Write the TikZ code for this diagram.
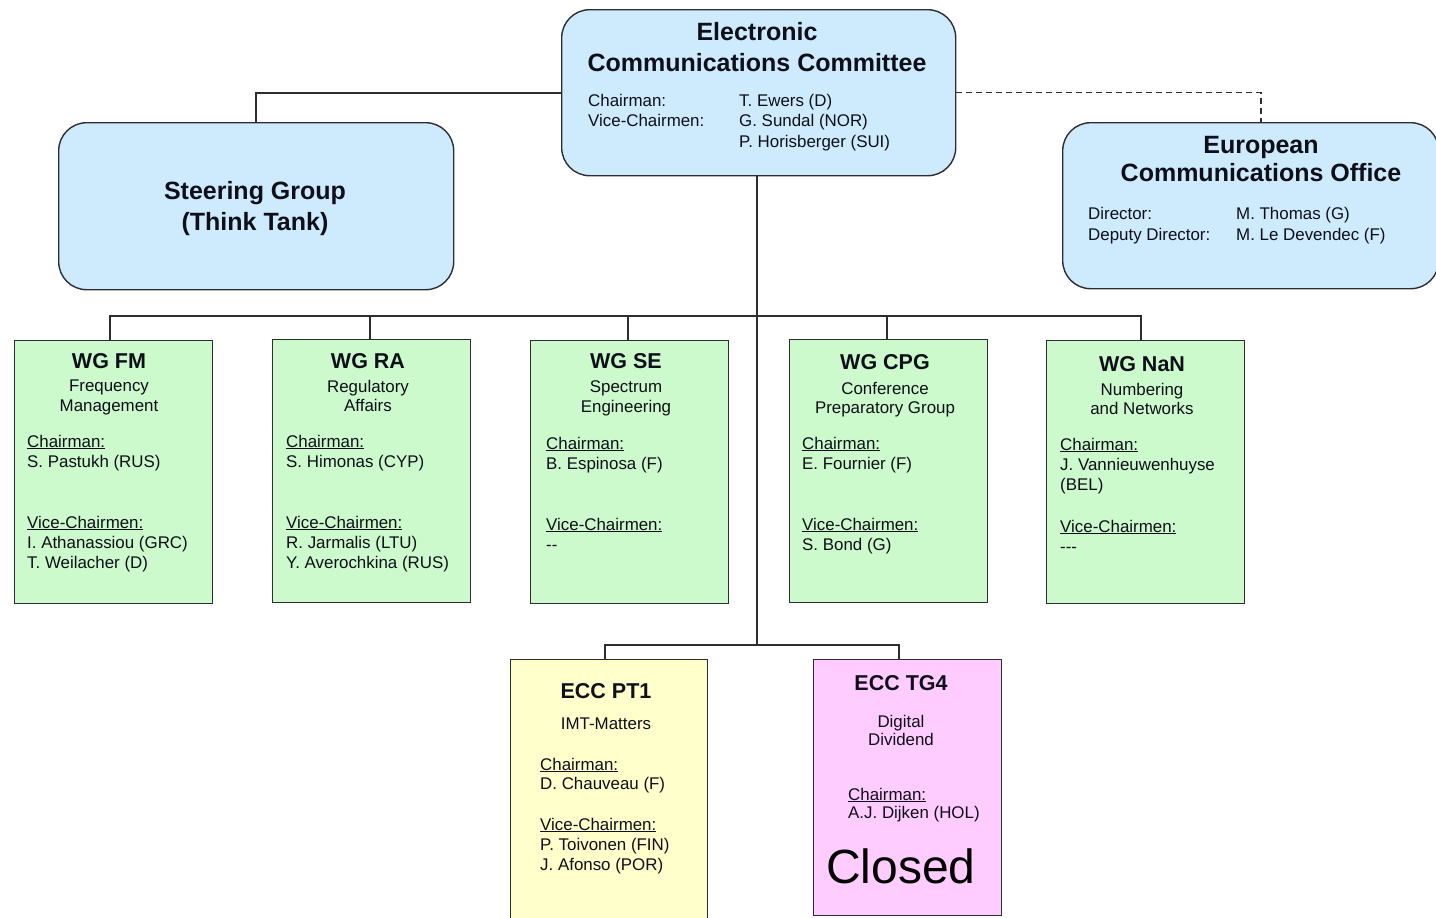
\documentclass[tikz,border=0pt]{standalone}
\usepackage{fontspec}
\setmainfont{Liberation Sans}
\usetikzlibrary{calc}
\definecolor{linec}{RGB}{45,45,50}
\definecolor{textc}{RGB}{15,15,25}
\definecolor{bluef}{RGB}{205,235,252}
\definecolor{greenf}{RGB}{204,250,204}
\definecolor{yellowf}{RGB}{255,255,204}
\definecolor{pinkf}{RGB}{255,204,255}
\tikzset{
  box/.style={draw=linec, line width=1.4pt, inner sep=0pt, anchor=north west},
  rbox/.style={box, rounded corners=28pt, fill=bluef},
  wgbox/.style={box, fill=greenf, minimum width=198pt, minimum height=263pt},
  conn/.style={draw=linec, line width=1.6pt},
  dashconn/.style={conn, line width=1.2pt, dash pattern=on 6pt off 4pt},
  txt/.style={inner sep=0pt, anchor=base west, text=textc, font=\fontsize{16.9}{20}\selectfont},
  ctxt/.style={txt, anchor=base},
  head/.style={inner sep=0pt, anchor=base, text=textc, font=\fontsize{25}{29}\selectfont\bfseries},
  wghead/.style={inner sep=0pt, anchor=base, text=textc, font=\fontsize{21.5}{25}\selectfont\bfseries},
}
\begin{document}
\begin{tikzpicture}[x=1pt,y=-1pt]
\useasboundingbox (0,0) rectangle (1436,918);
% boxes
\node[rbox, minimum width=394pt, minimum height=166pt] (ecc) at (561,9) {};
\node[rbox, minimum width=395pt, minimum height=167pt] (steer) at (58,122) {};
\node[rbox, minimum width=376pt, minimum height=166pt] (eco) at (1062,122) {};
\node[wgbox] (fm) at (14,340) {};
\node[wgbox] (ra) at (272,339) {};
\node[wgbox] (se) at (530,340) {};
\node[wgbox] (cpg) at (789,339) {};
\node[wgbox] (nan) at (1046,340) {};
\node[box, fill=yellowf, minimum width=197pt, minimum height=272pt] (pt1) at (510,659) {};
\node[box, fill=pinkf, minimum width=188pt, minimum height=256pt] (tg4) at (813,659) {};
% connectors
\coordinate (bus) at (0,316);
\draw[conn] (ecc.west) -| (steer.north);
\draw[dashconn] (ecc.east) -| ($(eco.north west)+(199,0)$);
\draw[conn] ($(ecc.south)+(-2,0)$) -- ($(ecc.south |- pt1.north)+(-2,-14)$);
\draw[conn] ($(fm.north)+(-4,0)$) -- ($(fm.north |- bus)+(-4,0)$) -| ($(nan.north)+(-5,0)$);
\draw[conn] ($(ra.north)+(-2,0)$) -- ($(ra.north |- bus)+(-2,0)$);
\draw[conn] ($(se.north)+(-2,0)$) -- ($(se.north |- bus)+(-2,0)$);
\draw[conn] ($(cpg.north)+(-2,0)$) -- ($(cpg.north |- bus)+(-2,0)$);
\draw[conn] ($(pt1.north)+(-4,0)$) -- ++(0,-14) -| ($(tg4.north)+(-9,0)$);
% ECC text
\node[head] (ecct1) at (757,40) {Electronic};
\node[head] (ecct2) at (757,71) {Communications Committee};
\node[txt] (ecca) at (588,106) {Chairman:};
\node[txt] (eccb) at (588,126) {Vice-Chairmen:};
\node[txt] (eccc) at (739,106) {T. Ewers (D)};
\node[txt] (eccd) at (739,126) {G. Sundal (NOR)};
\node[txt] (ecce) at (739,147) {P. Horisberger (SUI)};
% Steering text
\node[head] (st1) at (255,199) {Steering Group};
\node[head] (st2) at (255,230) {(Think Tank)};
% ECO text
\node[head] (eco1) at (1261,153) {European};
\node[head] (eco2) at (1261,181) {Communications Office};
\node[txt] (ecoa) at (1088,219) {Director:};
\node[txt] (ecob) at (1088,240) {Deputy Director:};
\node[txt] (ecoc) at (1236,219) {M. Thomas (G)};
\node[txt] (ecod) at (1236,240) {M. Le Devendec (F)};
% WG FM
\node[wghead] (fm1) at (109,368) {WG FM};
\node[ctxt] (fm2) at (109,391) {Frequency};
\node[ctxt] (fm3) at (109,411) {Management};
\node[txt] (fm4) at (27,447) {\underline{Chairman:}};
\node[txt] (fm5) at (27,467) {S. Pastukh (RUS)};
\node[txt] (fm6) at (27,528) {\underline{Vice-Chairmen:}};
\node[txt] (fm7) at (27,548) {I. Athanassiou (GRC)};
\node[txt] (fm8) at (27,568) {T. Weilacher (D)};
% WG RA
\node[wghead] (ra1) at (368,368) {WG RA};
\node[ctxt] (ra2) at (368,392) {Regulatory};
\node[ctxt] (ra3) at (368,411) {Affairs};
\node[txt] (ra4) at (286,447) {\underline{Chairman:}};
\node[txt] (ra5) at (286,467) {S. Himonas (CYP)};
\node[txt] (ra6) at (286,528) {\underline{Vice-Chairmen:}};
\node[txt] (ra7) at (286,548) {R. Jarmalis (LTU)};
\node[txt] (ra8) at (286,568) {Y. Averochkina (RUS)};
% WG SE
\node[wghead] (se1) at (626,368) {WG SE};
\node[ctxt] (se2) at (626,392) {Spectrum};
\node[ctxt] (se3) at (626,412) {Engineering};
\node[txt] (se4) at (546,449) {\underline{Chairman:}};
\node[txt] (se5) at (546,469) {B. Espinosa (F)};
\node[txt] (se6) at (546,530) {\underline{Vice-Chairmen:}};
\node[txt] (se7) at (546,550) {-{}-};
% WG CPG
\node[wghead] (cpg1) at (885,369) {WG CPG};
\node[ctxt] (cpg2) at (885,394) {Conference};
\node[ctxt] (cpg3) at (885,413) {Preparatory Group};
\node[txt] (cpg4) at (802,449) {\underline{Chairman:}};
\node[txt] (cpg5) at (802,469) {E. Fournier (F)};
\node[txt] (cpg6) at (802,530) {\underline{Vice-Chairmen:}};
\node[txt] (cpg7) at (802,550) {S. Bond (G)};
% WG NaN
\node[wghead] (nan1) at (1142,371) {WG NaN};
\node[ctxt] (nan2) at (1142,395) {Numbering};
\node[ctxt] (nan3) at (1142,414) {and Networks};
\node[txt] (nan4) at (1060,450) {\underline{Chairman:}};
\node[txt] (nan5) at (1060,470) {J. Vannieuwenhuyse};
\node[txt] (nan6) at (1060,490) {(BEL)};
\node[txt] (nan7) at (1060,532) {\underline{Vice-Chairmen:}};
\node[txt] (nan8) at (1060,552) {-{}-{}-};
% ECC PT1
\node[wghead] (pt1a) at (606,698) {ECC PT1};
\node[ctxt] (pt1b) at (606,729) {IMT-Matters};
\node[txt] (pt1c) at (540,770) {\underline{Chairman:}};
\node[txt] (pt1d) at (540,789) {D. Chauveau (F)};
\node[txt] (pt1e) at (540,830) {\underline{Vice-Chairmen:}};
\node[txt] (pt1f) at (540,850) {P. Toivonen (FIN)};
\node[txt] (pt1g) at (540,870) {J. Afonso (POR)};
% ECC TG4
\node[wghead] (tg4a) at (901,690) {ECC TG4};
\node[ctxt] (tg4b) at (901,727) {Digital};
\node[ctxt] (tg4c) at (901,745) {Dividend};
\node[txt] (tg4d) at (848,800) {\underline{Chairman:}};
\node[txt] (tg4e) at (848,818) {A.J. Dijken (HOL)};
\node[inner sep=0pt, anchor=base west, text=black, font=\fontsize{48}{54}\selectfont] (closed) at (826,883) {Closed};
\end{tikzpicture}
\end{document}
